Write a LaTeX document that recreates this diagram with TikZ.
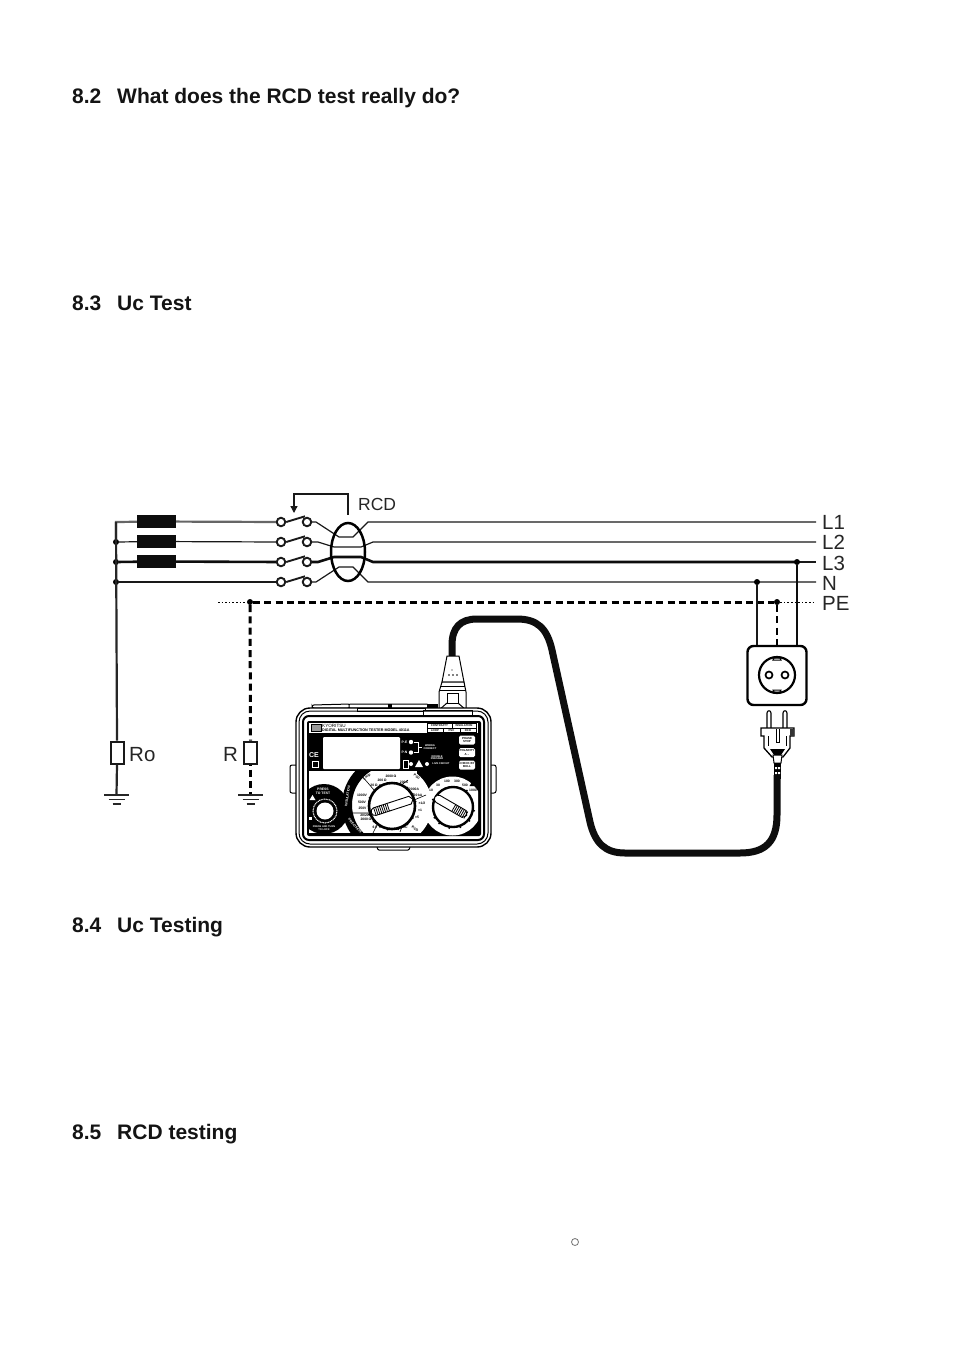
\documentclass[tikz,border=0pt]{standalone}
\usepackage{fontspec}
\setmainfont{Liberation Sans}
\usetikzlibrary{arrows.meta,calc,shapes.geometric}
\tikzset{
 x=1pt,y=-1pt,
 head/.style={anchor=base west,inner sep=0pt,font=\fontsize{21}{24}\selectfont\bfseries,text=black!92},
 lab/.style={anchor=base west,inner sep=0pt,font=\fontsize{20.5}{24}\selectfont,text=black!85},
 labs/.style={anchor=base west,inner sep=0pt,font=\fontsize{17.5}{20}\selectfont,text=black!85},
 thinw/.style={line width=1.2pt,black!90},
 thickw/.style={line width=2.6pt,black!95},
 bus/.style={line width=2.2pt,black!85},
 pedash/.style={line width=3pt,black,dash pattern=on 7pt off 4.2pt},
 pedot/.style={line width=.8pt,black,dash pattern=on 1.6pt off 2pt},
 dot/.style={circle,fill=black,inner sep=0pt,minimum size=6pt},
 fuse/.style={rectangle,fill=black!95,inner sep=0pt,minimum width=39pt,minimum height=13pt},
 contact/.style={circle,draw=black!90,line width=1.9pt,fill=white,inner sep=0pt,minimum size=8.5pt},
 res/.style={rectangle,draw=black!90,fill=white,line width=2pt,inner sep=0pt,minimum width=13pt,minimum height=22pt},
 gnd/.style={line width=1.7pt,black!85},
 cable/.style={line width=7pt,black!95},
 tt/.style={inner sep=0pt,font=\fontsize{3.4}{3.8}\selectfont\bfseries,align=center,text=black},
 tw/.style={tt,text=white},
 body/.style={draw=black,line width=1pt,fill=white},
 btnbox/.style={rectangle,rounded corners=1.5pt,fill=white,minimum width=16pt,minimum height=9pt,inner sep=0pt,tt,font=\fontsize{2.9}{3.2}\selectfont\bfseries},
 hdr/.style={tt,font=\fontsize{2.8}{3}\selectfont\bfseries},
}
\begin{document}
\begin{tikzpicture}
\useasboundingbox (0,0) rectangle (954,1355);
\fill[white] (0,0) rectangle (954,1355);
% headings
\node[head] (h82) at (72,103) {8.2\hspace{10pt} What does the RCD test really do?};
\node[head] (h83) at (72,310) {8.3\hspace{10pt} Uc Test};
\node[head] (h84) at (72,932) {8.4\hspace{10pt} Uc Testing};
\node[head] (h85) at (72,1139) {8.5\hspace{10pt} RCD testing};
\node[circle,draw=black!55,line width=.8pt,inner sep=0pt,minimum size=7pt] (deg) at (575,1242) {};
% coordinates
\coordinate (bus1) at (116,522);
\node[dot] (bus2) at (116,542) {};
\node[dot] (bus3) at (116,562) {};
\node[dot] (bus4) at (116,582) {};
\node[fuse] (f1) at (156.5,521.5) {};
\node[fuse] (f2) at (156.5,541.5) {};
\node[fuse] (f3) at (156.5,561.5) {};
\foreach \n/\y in {1/522,2/542,3/562,4/582}{
 \node[contact] (sa\n) at (281,\y) {};
 \node[contact] (sb\n) at (307,\y) {};
 \draw[line width=1.9pt,black!90] (sa\n.east) -- ($(sb\n.north)+(-2,-.5)$);
}
\coordinate (end1) at (816,522);
\coordinate (end2) at (816,542);
\coordinate (end3) at (797,562);
\coordinate (end3b) at (816,562);
\coordinate (end4) at (816,582);
% supply wires
\draw[bus,black!60] (bus2) -- (bus1) -- (f1);
\draw[bus,black!60] (f1) -- (sa1);
\draw[thinw] (bus2) -- (f2) -- (sa2);
\draw[thickw] (bus3) -- (f3) -- (sa3);
\draw[thinw] (bus4) -- (sa4);
% RCD wires
\draw[thinw] (sb1) -- (316,522) -- (339,537) -- (353,537) -- (368,522) -- (end1);
\draw[thinw] (sb2) -- (318,542) -- (334,547) -- (361,547) -- (373,542) -- (end2);
\draw[thickw] (sb3) -- (318,562) -- (334,557) -- (361,557) -- (373,562) -- (end3);
\draw[thinw] (end3) -- (end3b);
\draw[thinw] (sb4) -- (316,582) -- (339,567) -- (353,567) -- (368,582) -- (end4);
\node[ellipse,draw=black,line width=2.5pt,inner sep=0pt,minimum width=34pt,minimum height=58pt] (core) at (348,552) {};
\coordinate (ctrl) at ($(core.north)+(0,-7)$);
\draw[line width=1.3pt,black!90,-{Triangle[length=7pt,width=7pt]}] (ctrl) -- (348,494) -- (294,494) -- (294,513);
\node[labs] (rcd) at (358,510) {RCD};
% labels
\node[lab] (l1) at (822,529) {L1};
\node[lab] (l2) at (822,549) {L2};
\node[lab] (l3) at (822,570) {L3};
\node[lab] (ln) at (822,590) {N};
\node[lab] (lpe) at (822,610) {PE};
% PE
\node[dot] (pe1) at (250,602) {};
\node[dot] (pe2) at (777,602) {};
\coordinate (pestart) at (218,602);
\coordinate (peend) at (816,602);
\draw[pedot] (pestart) -- (pe1);
\draw[pedash] (pe1) -- (pe2);
\draw[pedot] (pe2) -- (peend);
% earth branches
\node[res] (ro) at (117,752.5) {};
\node[res] (r) at (250.5,752.5) {};
\coordinate (g1) at (116.5,795);
\coordinate (g2) at (250.5,795);
\draw[bus] (bus1) -- (ro.north);
\draw[bus] (ro.south) -- (g1);
\draw[pedash] (pe1) -- (r.north);
\draw[pedash,dash phase=6pt] (r.south) -- (g2);
\foreach \c in {g1,g2}{
 \draw[gnd] ($(\c)+(-12.5,0)$) -- ($(\c)+(12.5,0)$);
 \draw[gnd] ($(\c)+(-8,4.5)$) -- ($(\c)+(8,4.5)$);
 \draw[gnd] ($(\c)+(-4,9)$) -- ($(\c)+(4,9)$);
}
\node[lab] (lro) at (129,761) {Ro};
\node[lab] (lr) at (223,761) {R};
% socket
\node[dot] (ndot) at (757,582) {};
\node[dot] (l3dot) at (797,562) {};
\node[rectangle,rounded corners=6pt,draw=black,line width=2.4pt,fill=white,minimum width=59pt,minimum height=59pt,inner sep=0pt] (socket) at (777,675.5) {};
\draw[thinw] (ndot) -- (757,645);
\draw[pedash,line width=2.4pt] (pe2) -- (socket.north);
\draw[thickw] (l3dot) -- (797,645);
\node[circle,draw=black,line width=2.2pt,inner sep=0pt,minimum size=36pt] (face) at (777,675) {};
\node[circle,draw=black,line width=1.7pt,inner sep=0pt,minimum size=7pt] (hole1) at (769,675) {};
\node[circle,draw=black,line width=1.7pt,inner sep=0pt,minimum size=7pt] (hole2) at (785,675) {};
\draw[line width=1pt] (773,660) -- (774,658) -- (780,658) -- (781,660) -- cycle;
\draw[line width=1pt] (773,690) -- (774,692) -- (780,692) -- (781,690) -- cycle;
% plug
\draw[line width=1.1pt,fill=white] (767,728) -- (767,713) .. controls (767,710) and (771,710) .. (771,713) -- (771,728);
\draw[line width=1.1pt,fill=white] (783,728) -- (783,713) .. controls (783,710) and (787,710) .. (787,713) -- (787,728);
\draw[line width=1.3pt,fill=white] (761,728) -- (794,728) -- (794,736) -- (790,736) -- (790,748) -- (783,757) -- (772,757) -- (764,748) -- (764,736) -- (761,736) -- cycle;
\fill[black!80] (790,729) rectangle (794,736);
\draw[line width=1pt] (776,729) -- (776,742) -- (779,742) -- (779,729);
\draw[line width=1pt] (768,736) -- (768,746) (786,736) -- (786,746);
\fill[black] (770,749) -- (785,749) -- (781,755) -- (774,755) -- cycle;
\draw[line width=1pt,fill=white] (773,755) -- (782,755) -- (781,763) -- (774,763) -- cycle;
\fill[black] (774,763) rectangle (781,779);
\fill[white] (775,767) rectangle (777,769) (778,767) rectangle (780,769) (775,772) rectangle (777,774) (778,772) rectangle (780,774);
% cable
\coordinate (cabA) at (777,775);
\coordinate (cabB) at (452,660);
\draw[cable] (cabA) -- (777,815) .. controls (777,842) and (765,853) .. (740,853) -- (625,853) .. controls (605,853) and (595,843) .. (590,822) -- (552,650) .. controls (547,628) and (537,619) .. (517,619) -- (477,619) .. controls (460,619) and (452,628) .. (452,645) -- (cabB);
% connector
\draw[line width=1pt,fill=white] (447,656) -- (459,656) -- (464,682) -- (442,682) -- cycle;
\draw[line width=1pt,fill=white] (442,682) -- (464,682) -- (466,692) -- (466,710) -- (439,710) -- (439,692) -- cycle;
\draw[line width=1pt] (440,686) -- (465,686) (439,690) -- (466,690);
\draw[line width=1pt] (447,693) -- (458,693) -- (458,703) -- (447,703) -- cycle;
\draw[line width=1pt] (447,703) -- (439,710) (458,703) -- (466,710);
\fill (449,675) circle[radius=.8] (453,675) circle[radius=.8] (457,675) circle[radius=.8] (452,670) circle[radius=.6];
% tester top
\draw[body,rounded corners=2pt] (312,708) -- (312,705) -- (350,704) -- (350,708) -- cycle;
\draw[body,rounded corners=1pt] (349,708) -- (349,704) -- (428,704) -- (428,708) -- cycle;
\fill (388,704) rectangle (392,708);
\fill (427,704) rectangle (438,708);
% side clips, bottom tab
\draw[body,rounded corners=2pt] (296,765) -- (290,765) -- (290,793) -- (296,793);
\draw[body,rounded corners=2pt] (490,765) -- (496,765) -- (496,793) -- (490,793);
\draw[body,rounded corners=1pt] (377,847) -- (378,850) -- (409,850) -- (410,847);
% tester body
\node[rectangle,rounded corners=14pt,draw=black,line width=1.4pt,fill=white,minimum width=195pt,minimum height=139pt,inner sep=0pt] (tester) at (393.5,777.5) {};
\draw[body] (357,708) rectangle (425,711);
\draw[body] (423,710) rectangle (472,715);
\draw[line width=1pt,rounded corners=11pt] (299,711) rectangle (488,844);
\draw[line width=2pt,rounded corners=6pt] (303,716) rectangle (484,840);
% panel
\fill[black,rounded corners=2pt] (307,721) rectangle (481,836);
\fill[white] (309,723) rectangle (478,732.5);
\node[tt,anchor=west,font=\fontsize{4.6}{5}\selectfont] (ky) at (322,725.6) {KYORITSU};
\draw[line width=.5pt,fill=black!40] (311,724) rectangle (321,731);
\node[tt,anchor=west,font=\fontsize{3.7}{4}\selectfont\bfseries] (model) at (322,730) {DIGITAL MULTIFUNCTION TESTER MODEL 4011A};
\draw[line width=.5pt] (427,723) rectangle (476,732.5) (427,727.8) -- (476,727.8) (452,723) -- (452,727.8) (443,727.8) -- (443,732.5) (460,727.8) -- (460,732.5);
\node[hdr] (t1) at (439.5,725.6) {CONTINUITY};
\node[hdr] (t2) at (464,725.6) {INSULATION};
\node[hdr] (t3) at (435,730.3) {LOOP};
\node[hdr] (t4) at (451.5,730.3) {PSC};
\node[hdr] (t5) at (468,730.3) {RCD};
% display
\fill[white,rounded corners=1pt] (323,737) rectangle (400,769);
\node[tw,font=\fontsize{7}{7}\selectfont\bfseries] (ce) at (314,755) {CE};
\draw[white,line width=.7pt] (312,761) rectangle (318,767);
\node[tw] (pe) at (404.5,742) {P-E};
\node[tw] (pn) at (404.5,752.5) {P-N};
\fill[white] (411,742) circle[radius=2.2] (411,752.5) circle[radius=2.2];
\draw[white,line width=.7pt] (414,742) -- (418,742) -- (418,752.5) -- (414,752.5) (418,747) -- (422,747);
\node[tw,font=\fontsize{2.6}{2.8}\selectfont\bfseries] (wir) at (430,747) {WIRING\\CORRECT};
\draw[white,line width=.7pt] (403,760) rectangle (408,768);
\fill[white] (411,764) circle[radius=2];
\fill[white] (415,767) -- (419,760) -- (423,767) -- cycle;
\fill[white] (427,764) circle[radius=2];
\node[tw,font=\fontsize{2.6}{2.8}\selectfont\bfseries] (live) at (441,764) {LIVE CIRCUIT};
\node[tw,font=\fontsize{2.6}{2.8}\selectfont\bfseries] (dng) at (437,757.5) {DOUBLE\\PRESSED};
\node[btnbox] (bp) at (467,740) {PHASE\\STOP};
\node[btnbox] (bq) at (467,752.5) {POLARITY\\A --};
\node[btnbox] (br) at (467,765) {CHECK BY\\BULL};
% lower zone: white to the left, black behind the dials on the right
\fill[white] (309,771) rectangle (417,832.5);
% push button
\begin{scope}
\clip (308,771) rectangle (350,833);
\node[circle,fill=black,inner sep=0pt,minimum size=50pt] (btndisc) at (324,809) {};
\end{scope}
\node[tw] (press) at (323,791) {PRESS\\TO TEST};
\node[circle,draw=white,line width=1pt,dash pattern=on 1pt off .7pt,fill=black,inner sep=0pt,minimum size=24pt] (btn) at (325,811) {};
\node[circle,fill=white,inner sep=0pt,minimum size=17pt] (btni) at (325,811) {};
\fill[white] (309.5,800) -- (312.5,795) -- (315.5,800) -- cycle;
\fill[white] (308.5,816.5) rectangle (311.5,819.5);
\node[tw,font=\fontsize{2.5}{2.8}\selectfont\bfseries] (press2) at (324,828.5) {PRESS AND TURN\\TO LOCK};
% right dial
\begin{scope}
\clip (420,771) rectangle (478,836);
\node[circle,fill=white,inner sep=0pt,minimum size=59pt] (dialR) at (452.5,806) {};
\end{scope}
% left dial
\begin{scope}
\clip (335,771) rectangle (440,832.5);
\fill[white] (392,805) circle[radius=40];
\clip (335,771) rectangle (372,832.5);
\draw[line width=10pt,black] (392,805) circle[radius=45];
\end{scope}
\node[circle,draw=black,line width=2.4pt,fill=white,inner sep=0pt,minimum size=40pt] (knobR) at (453,807) {};
\begin{scope}[rotate around={-30:(452,807)}]
\draw[line width=.9pt,fill=white] (436,803) -- (466,803) -- (469,807) -- (466,811) -- (436,811) .. controls (431,811) and (431,803) .. (436,803) -- cycle;
\foreach \hx in {454,456,...,468}{ \draw[line width=.8pt] (\hx,803) -- (\hx,811); }
\end{scope}
\foreach \ang in {130,100,70,40,10,-50,-160,-210}{
 \fill (453,807) ++(\ang:21.5) circle[radius=1];
}
\foreach \nm/\px/\py/\tx in {r1/431/790/10,r2/438/785/30,r3/447/781/100,r4/457/781/300,r5/465/785/500,r6/473/790.5/1000}{
 \node[tt] (\nm) at (\px,\py) {\tx};
}
\fill (469.5,786) -- (472,782) -- (474.5,786) -- cycle;
\node[tw,rotate=82] (ins) at (347.5,796) {INSULATION};
\node[tw,rotate=-48] (pcl) at (355,826) {PRECISION};
\node[tt,rotate=35] (loop) at (367,777) {Loop};
\draw[line width=.6pt] (362,776) -- (374,790) (352,813) -- (370,813) (373,833) -- (378,823);
\draw[line width=.6pt] (408,780) -- (400,786) (426,795) -- (414,800) (400,832) -- (403,824);
\node[circle,draw=black,line width=2.6pt,fill=white,inner sep=0pt,minimum size=46pt] (knobL) at (392,806) {};
\begin{scope}[rotate around={18:(392,806)}]
\draw[line width=.9pt,fill=white] (374,802) -- (411,802) -- (414,806) -- (411,810) -- (374,810) .. controls (369,810) and (369,802) .. (374,802) -- cycle;
\foreach \hx in {374,376,...,388}{ \draw[line width=.8pt] (\hx,802) -- (\hx,810); }
\end{scope}
\foreach \ang in {160,140,120,100,75,50,30,-10,-30,-50,-120,-160,-200}{
 \fill (392,806) ++(\ang:24) circle[radius=1];
}
\foreach \nm/\px/\py/\tx in {a1/391/776.8/2000\,Ω,a2/382/780/200\,Ω,a3/374/785/20\,Ω,a4/362/795/1000V,a5/362/802/500V,a6/362.5/808.5/250V,a7/366/817.5/{20/200/\\2000\,Ω},a9/375/827/6\,V,a10/404/782/200A,a11/414/789/2000A,a12/418/795/20\,kA,a13/422/803/{×1/2},a14/420/810/×1,a15/417/817/×5,a16/405/827/DC}{
 \node[tt] (\nm) at (\px,\py) {\tx};
}
\node[tt,rotate=-35] (psc) at (417,777) {PSC};
\node[tt,rotate=-35] (rcdd) at (415,829) {RCD};
\end{tikzpicture}
\end{document}
